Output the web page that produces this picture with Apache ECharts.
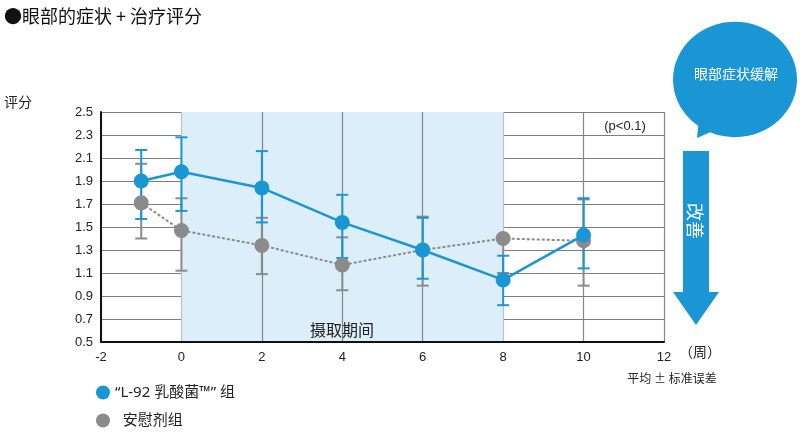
<!DOCTYPE html>
<html>
<head>
<meta charset="utf-8">
<script src="https://cdn.jsdelivr.net/npm/echarts@6/dist/echarts.min.js"></script>
<style>
html,body{margin:0;padding:0;background:#fff;}
#chart{width:800px;height:437px;}
</style>
</head>
<body>
<div id="chart"></div>
<script>
// ---- data ----
var weeks = [-1, 0, 2, 4, 6, 8, 10];
var l92Mean  = [1.90, 1.98, 1.84, 1.54, 1.30, 1.04, 1.43];
var l92Upper = [2.17, 2.28, 2.16, 1.78, 1.58, 1.25, 1.75];
var l92Lower = [1.57, 1.64, 1.54, 1.23, 1.05, 0.82, 1.14];
var placeboMean  = [1.71, 1.47, 1.34, 1.17, 1.30, 1.40, 1.38];
var placeboUpper = [2.05, 1.75, 1.58, 1.41, 1.59, 1.40, 1.74];
var placeboLower = [1.40, 1.12, 1.09, 0.95, 0.99, 1.10, 0.99];
var seriesNames = ['\u201cL-92 乳酸菌\u2122\u201d 组', '安慰剂组'];
var xTickLabels = ['-2', '0', '2', '4', '6', '8', '10', '12'];
var yTickLabels = ['0.5','0.7','0.9','1.1','1.3','1.5','1.7','1.9','2.1','2.3','2.5'];

var BLUE = '#1b96d4';
var GRAY = '#8b8b8b';
var FONT = '"Noto Sans CJK SC", "Noto Sans", sans-serif';
var LEGFONT = '"Noto Sans", "Noto Sans CJK SC", sans-serif';
var NUMFONT = '"Liberation Sans", Arial, sans-serif';

function pairs(xs, ys) { return xs.map(function (x, i) { return [x, ys[i]]; }); }
function triples(xs, lo, hi) { return xs.map(function (x, i) { return [x, lo[i], hi[i]]; }); }

function errRender(color) {
  return function (params, api) {
    var x = api.value(0);
    var p1 = api.coord([x, api.value(1)]);
    var p2 = api.coord([x, api.value(2)]);
    var hw = 6;
    var st = { stroke: color, lineWidth: 2 };
    return {
      type: 'group',
      children: [
        { type: 'line', shape: { x1: p1[0], y1: p1[1], x2: p2[0], y2: p2[1] }, style: st },
        { type: 'line', shape: { x1: p1[0] - hw, y1: p1[1], x2: p1[0] + hw, y2: p1[1] }, style: st },
        { type: 'line', shape: { x1: p2[0] - hw, y1: p2[1], x2: p2[0] + hw, y2: p2[1] }, style: st }
      ]
    };
  };
}

var chart = echarts.init(document.getElementById('chart'), null, { renderer: 'canvas' });
var SHADE = '#dbeef9';
var option = {
  animation: false,
  backgroundColor: '#fff',
  grid: { left: 101, right: 136, top: 112, bottom: 95 },
  xAxis: {
    type: 'value', min: -2, max: 12, interval: 2,
    axisLine: { show: true, onZero: false, lineStyle: { color: '#111', width: 2 } },
    axisTick: { show: false },
    axisLabel: { color: '#222', fontSize: 13, fontFamily: NUMFONT, margin: 9,
      formatter: function (v) { var i = Math.round((v + 2) / 2); return xTickLabels[i]; } },
    splitLine: { show: true, lineStyle: { width: 1.2,
      color: ['#888', '#bcc3c8', '#888', '#888', '#888', '#bcc3c8', '#888', '#888'] } },
    splitArea: { show: true, areaStyle: { color: ['rgba(0,0,0,0)', SHADE, SHADE, SHADE, SHADE, 'rgba(0,0,0,0)', 'rgba(0,0,0,0)'] } }
  },
  yAxis: {
    type: 'value', min: 0.5, max: 2.5, interval: 0.2,
    axisLine: { show: true, onZero: false, lineStyle: { color: '#111', width: 2 } },
    axisTick: { show: false },
    axisLabel: { color: '#222', fontSize: 13, fontFamily: NUMFONT, margin: 8,
      formatter: function (v) { var i = Math.round((v - 0.5) / 0.2); return yTickLabels[i]; } },
    splitLine: { show: true, lineStyle: { color: '#7d7d7d', width: 1.2 } }
  },
  legend: {
    orient: 'vertical', left: 96, top: 385, itemGap: 13, padding: 0,
    itemWidth: 14, itemHeight: 14, icon: 'circle',
    data: seriesNames,
    formatter: function (name) { return name === seriesNames[1] ? '  ' + name : name; },
    textStyle: { fontSize: 15, color: '#222', fontFamily: LEGFONT }
  },
  series: [
    { type: 'custom', name: 'placeboErr', renderItem: errRender(GRAY), data: triples(weeks, placeboLower, placeboUpper), z: 2, encode: { x: 0, y: [1, 2] }, silent: true },
    { type: 'custom', name: 'l92Err', renderItem: errRender(BLUE), data: triples(weeks, l92Lower, l92Upper), z: 3, encode: { x: 0, y: [1, 2] }, silent: true },
    { type: 'line', name: seriesNames[1], data: pairs(weeks, placeboMean), z: 4,
      symbol: 'circle', symbolSize: 15, itemStyle: { color: GRAY },
      lineStyle: { color: GRAY, width: 2, type: [3, 2] } },
    { type: 'line', name: seriesNames[0], data: pairs(weeks, l92Mean), z: 5,
      symbol: 'circle', symbolSize: 15, itemStyle: { color: BLUE },
      lineStyle: { color: BLUE, width: 2.5 } }
  ],
  graphic: [
    { type: 'text', left: 4, top: 7, style: { text: '●眼部的症状 + 治疗评分', font: '18px ' + FONT, fill: '#111' } },
    { type: 'text', left: 4, top: 95, style: { text: '评分', font: '14px ' + FONT, fill: '#222' } },
    { type: 'text', x: 342, y: 330, style: { text: '摄取期间', font: '16px ' + FONT, fill: '#222', align: 'center', verticalAlign: 'middle' }, z: 10 },
    { type: 'text', x: 625, y: 126, style: { text: '(p<0.1)', font: '13px ' + NUMFONT, fill: '#222', align: 'center', verticalAlign: 'middle' }, z: 10 },
    { type: 'text', x: 700, y: 352, style: { text: '（周）', font: '14px ' + FONT, fill: '#222', align: 'center', verticalAlign: 'middle' } },
    { type: 'text', x: 672, y: 378, style: { text: '平均 ± 标准误差', font: '12px ' + FONT, fill: '#222', align: 'center', verticalAlign: 'middle' } },
    { type: 'circle', x: 735, y: 79.5, scaleY: 0.93, shape: { cx: 0, cy: 0, r: 62 }, style: { fill: BLUE } },
    { type: 'polygon', shape: { points: [[699, 118], [697, 138], [720, 128]] }, style: { fill: BLUE } },
    { type: 'text', x: 736, y: 74, style: { text: '眼部症状缓解', font: '14px ' + FONT, fill: '#fff', align: 'center', verticalAlign: 'middle' } },
    { type: 'polygon', shape: { points: [[683, 151], [709, 151], [709, 292], [719, 292], [696, 325], [673, 292], [683, 292]] }, style: { fill: BLUE } },
    { type: 'text', x: 695, y: 221, rotation: -Math.PI / 2, style: { text: '改善', font: '18px ' + FONT, fill: '#fff', align: 'center', verticalAlign: 'middle' } }
  ]
};
chart.setOption(option);
</script>
</body>
</html>
